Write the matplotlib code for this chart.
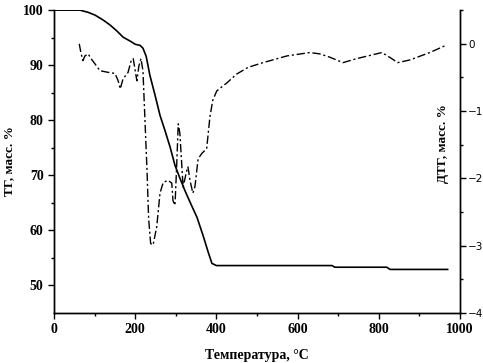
import matplotlib
matplotlib.use("Agg")
import matplotlib.pyplot as plt
from matplotlib.ticker import MultipleLocator

# TG curve (solid), mass %
tg_temp = [0, 64, 84, 101, 121, 138, 155, 170, 187, 200, 212, 219, 227, 236, 249,
           261, 273, 286, 298, 310, 322, 337, 352, 367, 380, 389, 400, 685, 692,
           820, 828, 970]
tg_mass = [100, 100, 99.6, 99.1, 98.2, 97.3, 96.2, 95.1, 94.4, 93.8, 93.6, 93.1, 91.6,
           88.2, 84.5, 80.9, 78.2, 75.1, 71.8, 69.5, 67.3, 64.8, 62.4, 59.1, 56.0,
           54.0, 53.6, 53.6, 53.3, 53.3, 52.9, 52.9]

# DTG curve (dash-dot), mass %
dtg_temp = [62, 66, 71, 76, 84, 91, 101, 113, 138, 150, 158, 163, 170, 182, 190, 195,
            200, 204, 209, 214, 219, 224, 229, 233, 238, 244, 253, 261, 269, 281,
            290, 293, 298, 302, 306, 310, 315, 318, 327, 330, 335, 342, 347, 355,
            364, 376, 384, 391, 401, 426, 450, 478, 515, 574, 630, 655, 680, 712,
            746, 808, 827, 847, 877, 926, 963]
dtg_val = [0.0, -0.13, -0.25, -0.18, -0.15, -0.22, -0.3, -0.4, -0.43, -0.44, -0.55,
           -0.67, -0.52, -0.43, -0.25, -0.22, -0.4, -0.55, -0.33, -0.22, -0.4, -1.14,
           -1.88, -2.6, -2.97, -2.99, -2.72, -2.22, -2.06, -2.03, -2.07, -2.33, -2.4,
           -1.83, -1.19, -1.33, -1.83, -2.13, -1.88, -1.83, -2.03, -2.22, -2.13,
           -1.71, -1.63, -1.56, -1.09, -0.84, -0.7, -0.58, -0.45, -0.35, -0.28,
           -0.18, -0.13, -0.15, -0.2, -0.28, -0.22, -0.13, -0.2, -0.28, -0.24,
           -0.13, -0.03]

plt.rcParams['font.family'] = ['Liberation Serif', 'DejaVu Serif']

fig = plt.figure(figsize=(4.83, 3.63), dpi=100)
ax = fig.add_axes([0.112, 0.138, 0.840, 0.834])
ax2 = ax.twinx()

ax.plot(tg_temp, tg_mass, color='black', lw=1.2)
ax2.plot(dtg_temp, dtg_val, color='black', lw=1.0, linestyle=(0, (6, 2, 1.5, 2)))

ax.set_xlim(0, 1000)
ax.set_ylim(45, 100)
ax2.set_ylim(-4, 0.5)

ax.xaxis.set_major_locator(MultipleLocator(200))
ax.xaxis.set_minor_locator(MultipleLocator(100))
ax.set_yticks([50, 60, 70, 80, 90, 100])
ax.set_yticks([55, 65, 75, 85, 95], minor=True)
ax2.yaxis.set_major_locator(MultipleLocator(1))
ax2.yaxis.set_minor_locator(MultipleLocator(0.5))

for a in (ax, ax2):
    a.spines['top'].set_visible(False)
    for s in a.spines.values():
        s.set_linewidth(1.0)

ax.tick_params(axis='both', which='major', direction='out', length=4, width=1,
               labelsize=10)
ax.tick_params(axis='both', which='minor', direction='out', length=2.5, width=1)
for lab in ax.get_xticklabels() + ax.get_yticklabels():
    lab.set_fontweight('bold')

ax2.tick_params(axis='y', which='major', direction='out', length=4, width=1,
                labelsize=7.5, pad=2)
ax2.tick_params(axis='y', which='minor', direction='out', length=2.5, width=1)
for lab in ax2.get_yticklabels():
    lab.set_fontfamily('DejaVu Sans')

ax.set_xlabel('Температура, °C', fontsize=10, fontweight='bold', labelpad=9)
ax.set_ylabel('ТГ, масс. %', fontsize=9.5, fontweight='bold', labelpad=6)
ax2.text(0.958, 0.56, 'ДТГ, масс. %', transform=ax2.transAxes, rotation=90,
         ha='center', va='center', fontsize=9.5, fontweight='bold')

fig.savefig('out.png', dpi=100)
